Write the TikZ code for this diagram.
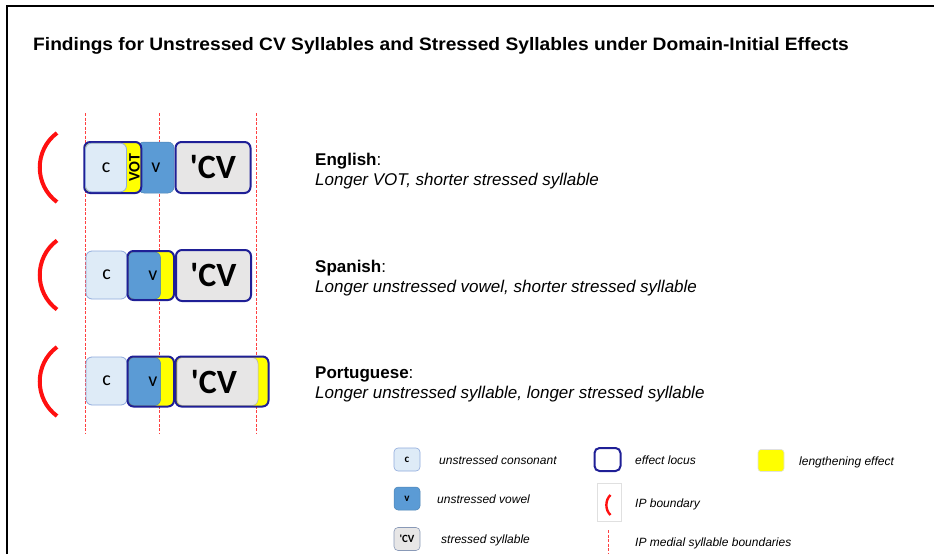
\documentclass[tikz,border=0pt]{standalone}
\usepackage{fontspec}
\setmainfont{Liberation Sans}
\newfontfamily\calfont{Carlito}
\newcommand{\stressCV}{\char39\relax CV}
\definecolor{cfill}{HTML}{DEEBF7}
\definecolor{cedge}{HTML}{8FAADC}
\definecolor{vfill}{HTML}{5B9BD5}
\definecolor{sfill}{HTML}{E7E6E6}
\definecolor{locus}{HTML}{1F1F96}
\definecolor{lyellow}{HTML}{FFFF00}
\definecolor{ipred}{HTML}{FF1010}
\definecolor{dashred}{HTML}{FF4040}
\tikzset{
  cbox/.style={fill=cfill, draw=cedge, line width=0.8pt, rounded corners=6pt, inner sep=0pt,
    font=\calfont\fontsize{20}{20}\selectfont},
  vbox/.style={fill=vfill, draw=vfill!85!black, line width=0.5pt, rounded corners=6pt, inner sep=0pt,
    font=\calfont\fontsize{20}{20}\selectfont},
  sbox/.style={fill=sfill, draw=locus, line width=2pt, rounded corners=6pt, inner sep=0pt,
    font=\calfont\bfseries\fontsize{34}{34}\selectfont},
  locusbox/.style={draw=locus, line width=2pt, rounded corners=6pt, inner sep=0pt},
  yellowbox/.style={fill=lyellow, rounded corners=6pt, inner sep=0pt},
  ipline/.style={draw=dashred, line width=1.1pt, dash pattern=on 3pt off 1.5pt},
  iparc/.style={draw=ipred, line width=4pt},
  lang/.style={anchor=base west, inner sep=0pt, font=\fontsize{17}{19}\selectfont},
  desc/.style={anchor=base west, inner sep=0pt, font=\itshape\fontsize{17}{19}\selectfont},
  legtxt/.style={anchor=base west, inner sep=0pt, font=\itshape\fontsize{12}{15}\selectfont},
  legbox/.style={minimum width=26pt, minimum height=23pt, rounded corners=4pt, inner sep=0pt,
    font=\calfont\bfseries\fontsize{11}{11}\selectfont},
}
\begin{document}
\begin{tikzpicture}[x=1pt,y=-1pt]
\useasboundingbox (0,0) rectangle (934,554);
% frame
\draw[line width=2.5pt] (7,554) -- (7,6) -- (934,6);
% title
\node[anchor=base west, inner sep=0pt, font=\bfseries\fontsize{18}{20}\selectfont] (title) at (33,50)
  {\scalebox{1.066}[1]{Findings for Unstressed CV Syllables and Stressed Syllables under Domain-Initial Effects}};

% syllable boundaries
\coordinate (d1t) at (85.5,113); \coordinate (d1b) at (85.5,433);
\coordinate (d2t) at (159.5,113); \coordinate (d2b) at (159.5,433);
\coordinate (d3t) at (256.5,113); \coordinate (d3b) at (256.5,433);
\draw[ipline] (d1t) -- (d1b);
\draw[ipline] (d2t) -- (d2b);
\draw[ipline] (d3t) -- (d3b);

% IP boundary arcs
\foreach \yo/\nm in {0/e,107.5/s,214/p}{
  \coordinate (\nm arcA) at (57,133+\yo);
  \coordinate (\nm arcB) at (57,202+\yo);
  \draw[iparc] (\nm arcA) .. controls (34,150+\yo) and (34,185+\yo) .. (\nm arcB);
}

% ---------------- English
\node[vbox, minimum width=36pt, minimum height=51pt] (ev) at (156,167.5) {};
\node[yellowbox, locusbox, minimum width=57pt, minimum height=51pt] (elocus) at (112.75,167.5) {};
\node[cbox, minimum width=41pt, minimum height=48.5pt] (ec) at (106,167.5) {c};
\node[rotate=90, inner sep=0pt, font=\calfont\bfseries\fontsize{16}{16}\selectfont] (evot) at (134.5,167.5) {VOT};
\node[font=\calfont\fontsize{20}{20}\selectfont, inner sep=0pt] (evt) at (156,168) {v};
\node[sbox, minimum width=75pt, minimum height=51pt] (ecv) at (213,167.5) {\stressCV};
\node[lang] (elang) at (315,165) {\textbf{English}:};
\node[desc] (edesc) at (315,185) {Longer VOT, shorter stressed syllable};

% ---------------- Spanish
\node[cbox, minimum width=41pt, minimum height=48pt] (sc) at (106.5,275) {c};
\node[yellowbox, minimum width=46.5pt, minimum height=49pt] (sy) at (150.75,275.5) {};
\node[vbox, minimum width=32pt, minimum height=47pt] (sv) at (144.5,275.5) {};
\node[locusbox, minimum width=46.5pt, minimum height=49pt] (slocus) at (150.75,275.5) {};
\node[font=\calfont\fontsize{20}{20}\selectfont, inner sep=0pt] (svt) at (153,276) {v};
\node[sbox, minimum width=75pt, minimum height=51pt] (scv) at (213.5,275.5) {\stressCV};
\node[lang] (slang) at (315,272.5) {\textbf{Spanish}:};
\node[desc] (sdesc) at (315,292.5) {Longer unstressed vowel, shorter stressed syllable};

% ---------------- Portuguese
\node[cbox, minimum width=41pt, minimum height=48pt] (pc) at (106.5,381) {c};
\node[yellowbox, minimum width=46.5pt, minimum height=50pt] (py) at (150.75,381.5) {};
\node[vbox, minimum width=32pt, minimum height=48pt] (pv) at (144.5,381.5) {};
\node[locusbox, minimum width=46.5pt, minimum height=50pt] (plocus) at (150.75,381.5) {};
\node[font=\calfont\fontsize{20}{20}\selectfont, inner sep=0pt] (pvt) at (153,382) {v};
\node[yellowbox, minimum width=93pt, minimum height=50pt] (pcvy) at (222,381.5) {};
\node[fill=sfill, draw=sfill!75!black, line width=0.5pt, rounded corners=6pt, minimum width=81pt, minimum height=48pt, inner sep=0pt] (pcvin) at (217.5,381.5) {};
\node[locusbox, minimum width=93pt, minimum height=50pt] (pcv) at (222,381.5) {};
\node[font=\calfont\bfseries\fontsize{34}{34}\selectfont, inner sep=0pt] (pcvt) at (214,382.5) {\stressCV};
\node[lang] (plang) at (315,378.5) {\textbf{Portuguese}:};
\node[desc] (pdesc) at (315,398.5) {Longer unstressed syllable, longer stressed syllable};

% ---------------- Legend
\node[legbox, fill=cfill, draw=cedge, line width=0.6pt] (lc) at (407,459.5) {c};
\node[legtxt] (lct) at (439,464) {unstressed consonant};
\node[legbox, fill=vfill, draw=vfill!85!black, line width=0.5pt] (lv) at (407,498.5) {v};
\node[legtxt] (lvt) at (437,503) {unstressed vowel};
\node[legbox, fill=sfill, draw=cedge!60!gray, line width=0.6pt] (ls) at (407,539) {\stressCV};
\node[legtxt] (lst) at (441,543.5) {stressed syllable};
\node[locusbox, rounded corners=5pt, minimum width=26pt, minimum height=23pt] (ll) at (607.5,459.5) {};
\node[legtxt] (llt) at (635,464) {effect locus};
\node[fill=lyellow, draw=black!12, line width=0.6pt, rounded corners=3pt, minimum width=26pt, minimum height=22pt, inner sep=0pt] (ly) at (771,460.5) {};
\node[legtxt] (lyt) at (799,465) {lengthening effect};
\node[draw=black!12, line width=0.6pt, minimum width=24pt, minimum height=38pt, inner sep=0pt] (lip) at (609,502) {};
\coordinate (lipA) at (610.5,495);
\coordinate (lipB) at (610.5,515);
\draw[draw=ipred, line width=2.4pt] (lipA) .. controls (605,500) and (605,510) .. (lipB);
\node[legtxt] (lipt) at (635,507.5) {IP boundary};
\coordinate (lmt) at (608.5,530); \coordinate (lmb) at (608.5,554);
\draw[ipline] (lmt) -- (lmb);
\node[legtxt] (lmtxt) at (635,546) {IP medial syllable boundaries};
\end{tikzpicture}
\end{document}
